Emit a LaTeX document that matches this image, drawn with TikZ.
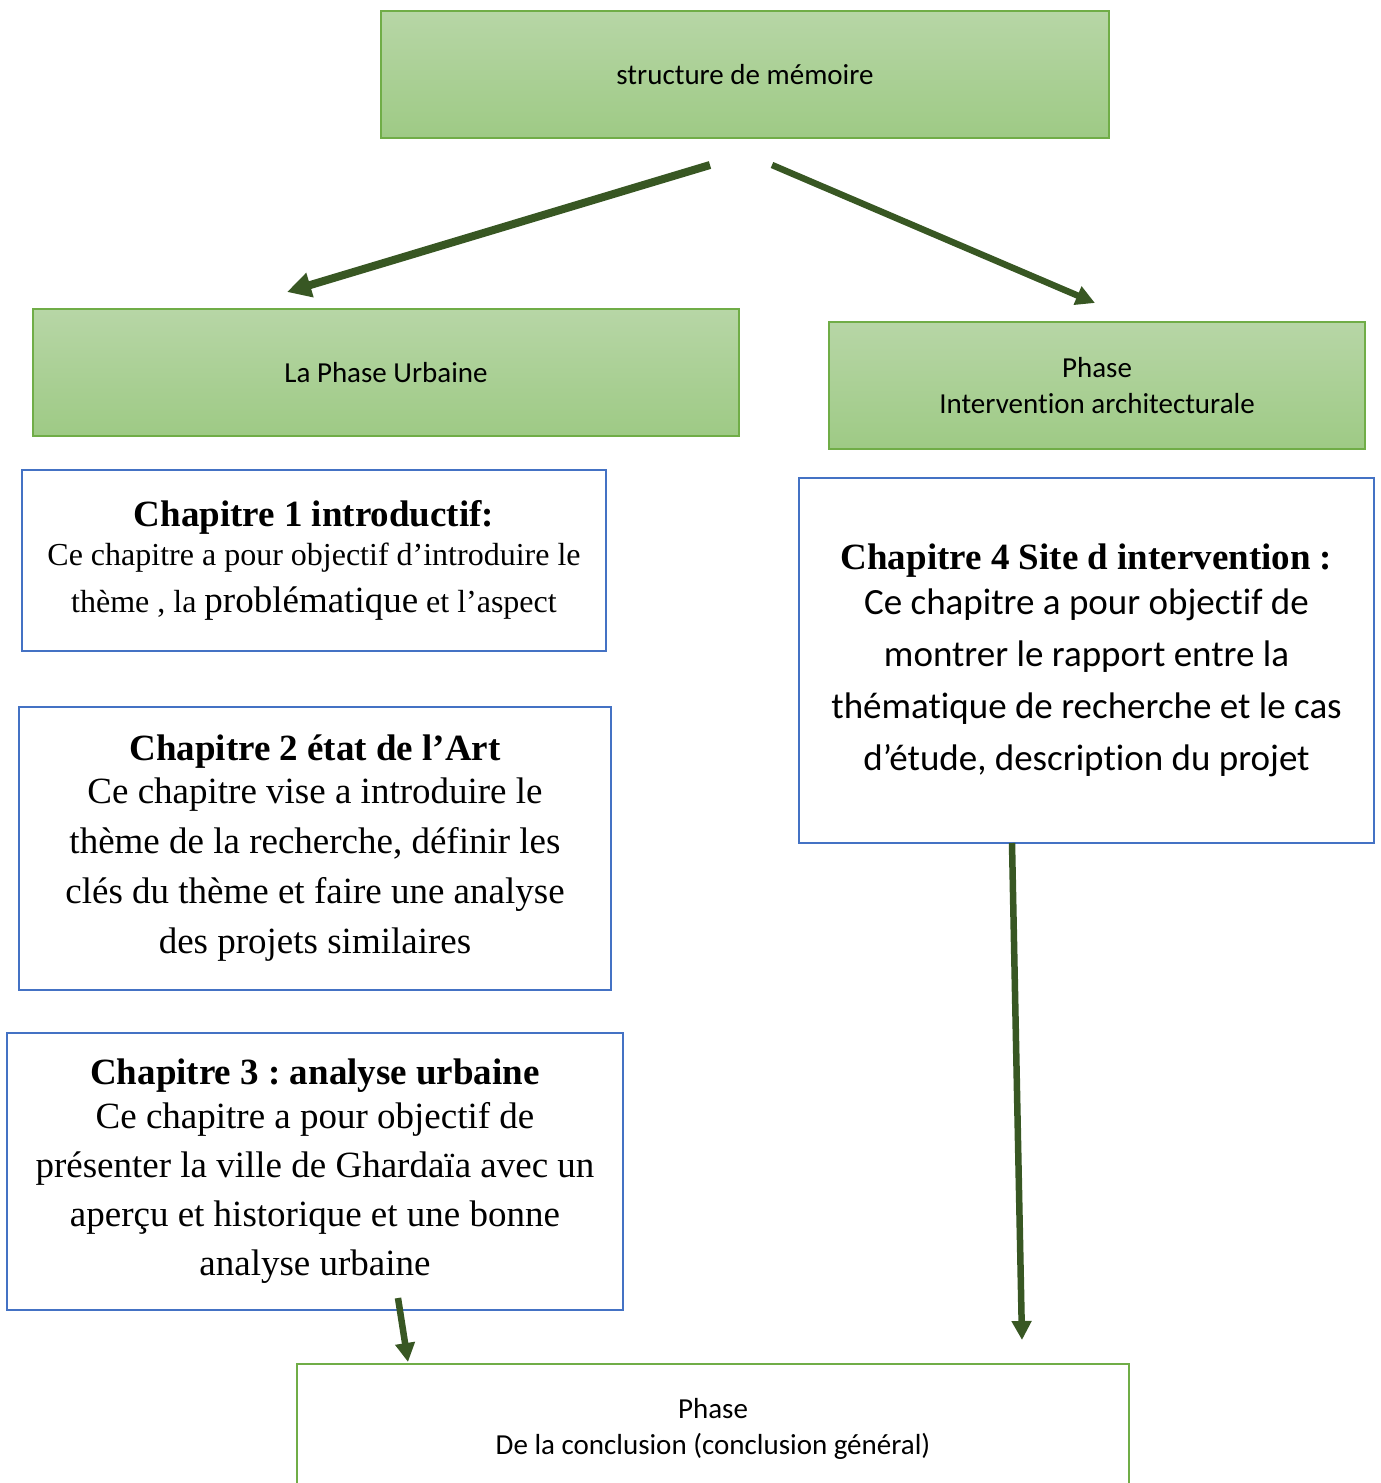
\documentclass[tikz,border=0pt]{standalone}
\usepackage{fontspec}
\setmainfont{Liberation Serif}
\newfontfamily\calibrifont[Ligatures={CommonOff,ContextualOff}]{Carlito}
\usetikzlibrary{arrows.meta}
\frenchspacing
\definecolor{greenedge}{RGB}{112,173,71}
\definecolor{greentop}{RGB}{183,214,166}
\definecolor{greenbot}{RGB}{158,202,133}
\definecolor{blueedge}{RGB}{68,114,196}
\definecolor{arrowgreen}{RGB}{56,87,35}
\tikzset{
  greenbox/.style={draw=greenedge, line width=1.8pt, top color=greentop, bottom color=greenbot,
    inner sep=0pt, align=center, font=\calibrifont\fontsize{29}{36}\selectfont},
  whitebox/.style={draw=greenedge, line width=2.5pt, fill=white,
    inner sep=0pt, align=center, font=\calibrifont\fontsize{29}{36}\selectfont},
  bluebox/.style={draw=blueedge, line width=2.5pt, fill=white, inner sep=0pt, align=center},
  bigarrow/.style={draw=arrowgreen, line width=6.5pt, -{Triangle[length=19pt,width=19pt]}},
}
\begin{document}
\begin{tikzpicture}[x=1pt,y=-1pt]
\useasboundingbox (0,0) rectangle (1381,1483);
\clip (0,0) rectangle (1381,1483);
% green phase boxes
\node[greenbox, minimum width=728, minimum height=127] (top) at (745,74.5) {\frenchspacing structure de mémoire};
\node[greenbox, minimum width=706, minimum height=127] (urb) at (386,372.5) {La Phase Urbaine};
\node[greenbox, minimum width=536, minimum height=127] (arch) at (1097,385.5) {Phase\\Intervention architecturale};
\node[whitebox, minimum width=832, minimum height=130] (concl) at (713,1429) {Phase\\De la conclusion (conclusion général)};
% chapters
\node[bluebox, minimum width=584, minimum height=181, font=\frenchspacing\fontsize{32}{47}\selectfont] (c1) at (314,560.5)
  {{\bfseries\fontsize{37}{40}\selectfont Chapitre 1 introductif:}\\[-8pt]
   Ce chapitre a pour objectif d’introduire le\\
   thème , la {\fontsize{37}{40}\selectfont problématique} et l’aspect};
\node[bluebox, minimum width=592, minimum height=283, font=\frenchspacing\fontsize{37}{50}\selectfont] (c2) at (315,848.5)
  {{\bfseries Chapitre 2 état de l’Art}\\[-7pt]
   Ce chapitre vise a introduire le\\
   thème de la recherche, définir les\\
   clés du thème et faire une analyse\\
   des projets similaires};
\node[bluebox, minimum width=616, minimum height=277, font=\frenchspacing\fontsize{37}{49}\selectfont] (c3) at (315,1171.5)
  {{\bfseries Chapitre 3 : analyse urbaine}\\[-5pt]
   Ce chapitre a pour objectif de\\
   présenter la ville de Ghardaïa avec un\\
   aperçu et historique et une bonne\\
   analyse urbaine};
\node[bluebox, minimum width=575, minimum height=365, font=\frenchspacing\calibrifont\fontsize{37}{52}\selectfont] (c4) at (1086.5,660.5)
  {{\rmfamily\bfseries Chapitre 4 Site d intervention :}\\[-7pt]
   Ce chapitre a pour objectif de\\
   montrer le rapport entre la\\
   thématique de recherche et le cas\\
   d’étude, description du projet};
% arrow end points
\coordinate (a1s) at (710,165);
\coordinate (a1e) at (287,292);
\coordinate (a2s) at (772,165);
\coordinate (a2e) at (1095,303);
\coordinate (a3s) at (1012,843);
\coordinate (a3e) at (1022,1340);
\coordinate (a4s) at (398,1298);
\coordinate (a4e) at (408,1362);
\draw[bigarrow, line width=8pt, -{Triangle[length=24pt,width=24pt]}] (a1s) -- (a1e);
\draw[bigarrow] (a2s) -- (a2e);
\draw[bigarrow] (a3s) -- (a3e);
\draw[bigarrow] (a4s) -- (a4e);
\end{tikzpicture}
\end{document}
